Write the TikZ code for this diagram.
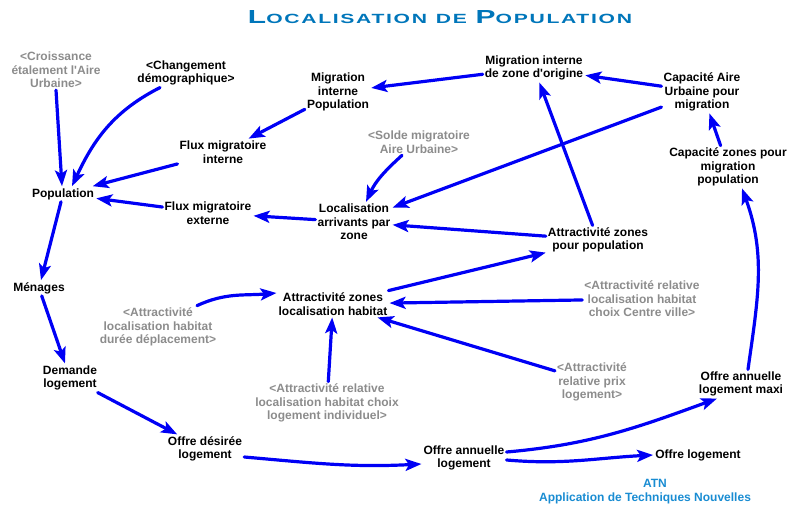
\documentclass[tikz,border=0pt]{standalone}
\usepackage{fontspec}
\setmainfont{Liberation Sans}
\usetikzlibrary{arrows.meta}
\definecolor{titleblue}{RGB}{0,118,186}
\definecolor{atnblue}{RGB}{25,140,210}
\definecolor{inputgray}{RGB}{140,140,140}
\definecolor{flowblue}{RGB}{0,0,245}
\newcommand{\scword}[2]{{\fontsize{17}{17}\selectfont #1}{\fontsize{12}{12}\selectfont #2}}
\tikzset{
  var/.style={font=\bfseries\fontsize{12}{13.5}\selectfont, align=center, inner sep=2pt},
  inputvar/.style={var, text=inputgray},
  flow/.style={draw=flowblue, line width=3.2pt, line cap=round,
    -{Stealth[length=16pt,width=12pt,inset=3.5pt]}}
}
\begin{document}
\begin{tikzpicture}[x=1pt,y=1pt]
        \useasboundingbox (0,0) rectangle (790,-508);

        \node (title) at (440,-24) [anchor=base, inner sep=0pt, text=titleblue]
          {\resizebox{384pt}{13pt}{\bfseries\addfontfeature{LetterSpace=8}\scword{L}{OCALISATION}\hspace{0.5em}\scword{}{DE}\hspace{0.5em}\scword{P}{OPULATION}}};

        \node[inputvar] (croiss) at (56,-70) {<Croissance\\étalement l\textquotesingle Aire\\Urbaine>};
        \node[var] (chang) at (186,-73) {<Changement\\démographique>};
        \node[var] (migpop) at (338,-92) {Migration\\interne\\Population};
        \node[var] (migzone) at (534,-68) {Migration interne\\de zone d\textquotesingle origine};
        \node[var] (capaire) at (702,-92) {Capacité Aire\\Urbaine pour\\migration};
        \node[inputvar] (solde) at (419,-142) {<Solde migratoire\\Aire Urbaine>};
        \node[var] (fluxint) at (223,-152) {Flux migratoire\\interne};
        \node[var] (capzones) at (728,-167) {Capacité zones pour\\migration\\population};
        \node[var] (pop) at (63,-194) {Population};
        \node[var] (fluxext) at (208,-213) {Flux migratoire\\externe};
        \node[var] (locarr) at (354,-222) {Localisation\\arrivants par\\zone};
        \node[var] (attpop) at (598,-240) {Attractivité zones\\pour population};
        \node[var] (menages) at (39,-288) {Ménages};
        \node[var] (atthab) at (333,-304) {Attractivité zones\\localisation habitat};
        \node[inputvar] (centre) at (642,-299) {<Attractivité relative\\localisation habitat\\choix Centre ville>};
        \node[inputvar] (duree) at (158,-327) {<Attractivité\\localisation habitat\\durée déplacement>};
        \node[inputvar] (prix) at (592,-382) {<Attractivité\\relative prix\\logement>};
        \node[var] (demande) at (70,-378) {Demande\\logement};
        \node[inputvar] (indiv) at (327,-403) {<Attractivité relative\\localisation habitat choix\\logement individuel>};
        \node[var] (offmaxi) at (741,-384) {Offre annuelle\\logement maxi};
        \node[var] (offdes) at (205,-449) {Offre désirée\\logement};
        \node[var] (offann) at (464,-458) {Offre annuelle\\logement};
        \node[var] (offlog) at (698,-455) {Offre logement};
        \node[var, text=atnblue] (atn) at (655,-483) {ATN};
        \node[var, text=atnblue] (appl) at (645,-498) {Application de Techniques Nouvelles};

        \draw[flow] (croiss.south) -- ([xshift=-1pt]pop.north);
        \draw[flow] ([xshift=-26pt]chang.south) to[out=207,in=65] ([xshift=9pt]pop.north);
        \draw[flow] (fluxint) -- (pop);
        \draw[flow] (migpop) -- (fluxint);
        \draw[flow] (migzone) -- (migpop);
        \draw[flow] (capaire) -- (migzone);
        \draw[flow] (capaire) -- (locarr);
        \draw[flow] (attpop) -- (migzone);
        \draw[flow] (capzones) -- (capaire);
        \draw[flow] ([xshift=7pt]offmaxi.north) to[out=82,in=-70] ([xshift=14pt]capzones.south);
        \draw[flow] ([xshift=-17pt]solde.south) to[out=222,in=65] ([xshift=12pt]locarr.north);
        \draw[flow] (locarr) -- (fluxext);
        \draw[flow] (fluxext) -- (pop);
        \draw[flow] (attpop) -- (locarr);
        \draw[flow] (atthab) -- (attpop);
        \draw[flow] (pop) -- (menages);
        \draw[flow] (menages) -- (demande);
        \draw[flow] ([xshift=39pt]duree.north) to[out=25,in=185] ([yshift=11pt]atthab.west);
        \draw[flow] (centre) -- (atthab);
        \draw[flow] (prix) -- (atthab);
        \draw[flow] (indiv) -- (atthab);
        \draw[flow] (demande) -- (offdes);
        \draw[flow] ([yshift=-8pt]offdes.east) to[out=-5,in=183] ([yshift=-6pt]offann.west);
        \draw[flow] ([yshift=-2pt]offann.east) to[out=-5,in=183] (offlog.west);
        \draw[flow] ([yshift=6pt]offann.east) to[out=5,in=200] ([xshift=-24pt]offmaxi.south);
      \end{tikzpicture}
\end{document}
